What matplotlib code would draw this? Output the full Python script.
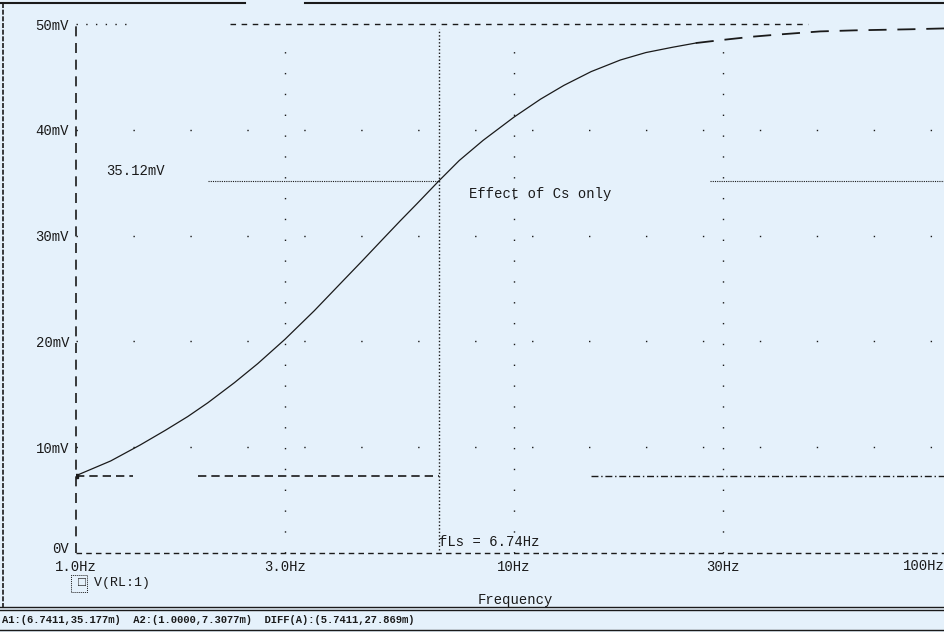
import numpy as np
import matplotlib.pyplot as plt
from matplotlib.lines import Line2D
from matplotlib.patches import Rectangle

freq = [1.0, 1.2, 1.4, 1.6, 1.8, 2.0, 2.3, 2.6, 3.0, 3.5, 4.0, 4.5, 5.0, 5.5,
        6.0, 6.7411, 7.5, 8.5, 10.0, 11.5, 13.0, 15.0, 17.5, 20.0, 23.0, 26.0,
        30.0, 35.0, 40.0, 50.0, 60.0, 80.0, 100.0]
volt_mv = [7.31, 8.7, 10.2, 11.6, 12.9, 14.2, 16.1, 17.9, 20.2, 22.9, 25.4,
           27.6, 29.6, 31.4, 33.0, 35.18, 37.1, 39.0, 41.2, 42.9, 44.2, 45.5,
           46.6, 47.3, 47.8, 48.2, 48.5, 48.8, 49.0, 49.3, 49.4, 49.5, 49.6]

xticks = [1, 3, 10, 30, 100]
xlabels = ['1.0Hz', '3.0Hz', '10Hz', '30Hz', '100Hz']
yticks = [0, 10, 20, 30, 40, 50]
ylabels = ['0V', '10mV', '20mV', '30mV', '40mV', '50mV']

cursor_f = 6.7411
cursor_v = 35.12
a2_v = 7.3077

bg = '#e5f1fb'
ink = '#1a1a1a'
plt.rcParams['font.family'] = ['Liberation Mono', 'DejaVu Sans Mono']

W, H = 945, 632
fig = plt.figure(figsize=(W / 100, H / 100), dpi=100, facecolor=bg)
ax = fig.add_axes([76 / W, 79 / H, (952 - 76) / W, (608 - 79) / H], facecolor=bg)
ax.set_xscale('log')
ax.set_xlim(1, 100)
ax.set_ylim(0, 50)
for s in ax.spines.values():
    s.set_visible(False)

# sparse dotted grid like the PSpice probe window
for f in [3, 10, 30]:
    ax.axvline(f, color=ink, lw=1, ls=(0, (1, 14)), ymax=0.97)
for v in [10, 20, 30, 40]:
    ax.axhline(v, color=ink, lw=1, ls=(0, (1, 40)))

# axis lines
ax.axvline(1, color=ink, lw=1.2, ls=(0, (6, 4)), clip_on=False)
ax.axhline(0, color=ink, lw=1, ls=(0, (4, 3)), clip_on=False)
ax.plot([1, 1.3], [50, 50], color=ink, lw=1, ls=(0, (1, 6)), clip_on=False)
ax.plot([2.25, 47], [50, 50], color=ink, lw=1, ls=(0, (4, 4)), clip_on=False)

# cursors
ax.axvline(cursor_f, color=ink, lw=1, ls=(0, (1, 1.5)), ymin=0.005, ymax=0.99)
ax.plot([2.0, 6.7411], [cursor_v, cursor_v], color=ink, lw=0.8, ls=(0, (1, 1)))
ax.plot([28, 100], [cursor_v, cursor_v], color=ink, lw=0.8, ls=(0, (1, 1)))
ax.plot([1, 1.35], [a2_v, a2_v], color=ink, lw=1.2, ls=(0, (5, 3)))
ax.plot([1.9, 6.7411], [a2_v, a2_v], color=ink, lw=1.2, ls=(0, (5, 3)))
ax.plot([15, 100], [a2_v, a2_v], color=ink, lw=1, ls=(0, (5, 2, 1, 2)))

# trace: solid up to ~26 Hz, long dashes beyond (as in the print)
fa = np.array(freq)
va = np.array(volt_mv)
near = fa <= 26
far = fa >= 26
ax.plot(fa[near], va[near], color=ink, lw=0.9)
ax.plot(fa[far], va[far], color=ink, lw=1.3, ls=(0, (10, 6)))
ax.plot([1], [a2_v], marker='s', ms=3, color=ink)

ax.set_xticks(xticks)
ax.set_xticklabels(xlabels[:-1] + [''])
ax.set_xticks([], minor=True)
ax.set_yticks(yticks)
ax.set_yticklabels([''] + ylabels[1:])
ax.tick_params(axis='both', length=0, labelsize=10, colors=ink)
ax.tick_params(axis='x', pad=5)
ax.tick_params(axis='y', pad=5)
fig.text(1.0, 1 - 566 / H, xlabels[-1], fontsize=10, color=ink, ha='right', va='center')
ax.annotate(ylabels[0], xy=(0, 0), xycoords=('axes fraction', 'data'),
            xytext=(-5, 3), textcoords='offset points', ha='right', va='center',
            fontsize=10, color=ink)

# annotations
ax.text(1.17, cursor_v + 0.6, '35.12mV', fontsize=10, color=ink)
ax.text(7.9, cursor_v - 1.6, 'Effect of Cs only', fontsize=10, color=ink)
ax.text(6.74, 0.7, 'fLs = 6.74Hz', fontsize=10, color=ink)

# legend and axis title
fig.text(78 / W, 1 - 583 / H, '\u25a1 V(RL:1)', fontsize=9.5, color=ink, va='center')
fig.add_artist(Rectangle((71 / W, 1 - 592 / H), 16 / W, 17 / H, fill=False,
                         ec=ink, lw=0.7, ls=(0, (1, 1))))
fig.text(515 / W, 1 - 600 / H, 'Frequency', fontsize=10, color=ink, ha='center', va='center')

# window frame and cursor status bar
for y in [607, 610]:
    fig.add_artist(Line2D([0, 1], [1 - y / H] * 2, color=ink, lw=1))
fig.add_artist(Line2D([0, 1], [1 - 630 / H] * 2, color=ink, lw=1))
fig.add_artist(Line2D([0, 245 / W], [1 - 3 / H] * 2, color=ink, lw=1.5))
fig.add_artist(Line2D([305 / W, 1], [1 - 3 / H] * 2, color=ink, lw=1.5))
fig.add_artist(Line2D([3 / W, 3 / W], [1 - 3 / H, 1 - 607 / H], color=ink, lw=1.2,
                      ls=(0, (3, 1))))
fig.text(2 / W, 1 - 620 / H,
         'A1:(6.7411,35.177m)  A2:(1.0000,7.3077m)  DIFF(A):(5.7411,27.869m)',
         fontsize=7.6, color=ink, va='center', fontweight='bold')

fig.savefig('out.png', dpi=100, facecolor=bg)
